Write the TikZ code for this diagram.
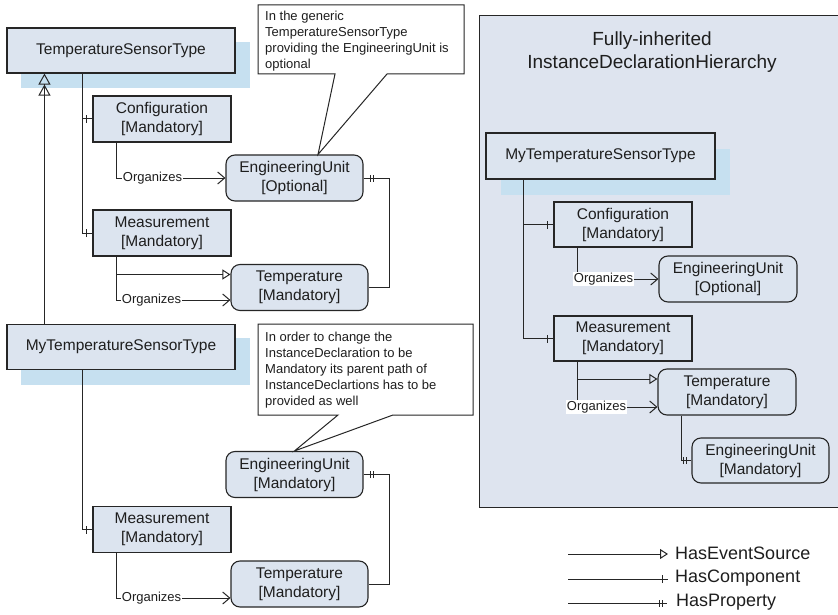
\documentclass[tikz,border=0pt]{standalone}
\usepackage{fontspec}
\setmainfont{Liberation Sans}
\usetikzlibrary{arrows.meta,decorations.markings}
\definecolor{boxfill}{RGB}{220,228,239}
\definecolor{panelfill}{RGB}{222,228,239}
\definecolor{shadowc}{RGB}{198,224,240}
\definecolor{linec}{RGB}{38,38,38}
\definecolor{textc}{RGB}{30,30,30}
\begin{document}
\begin{tikzpicture}[x=1pt,y=-1pt,
  every node/.style={text=textc},
  boxbase/.style={draw=linec,line width=1.1pt,fill=boxfill,align=center,
    font=\fontsize{15.5}{19}\selectfont,inner sep=0pt},
  typebox/.style={boxbase,minimum width=228pt,minimum height=45pt},
  objbox/.style={boxbase,minimum width=138pt,minimum height=46pt},
  varbox/.style={boxbase,rounded corners=9pt,minimum width=137pt,minimum height=46pt},
  conn/.style={draw=linec,line width=1pt},
  organizes/.style={conn,-{Straight Barb[length=7pt,width=12pt,line width=1pt]}},
  eventsrc/.style={conn,-{Triangle[open,length=8pt,width=10pt,line width=1pt]}},
  inherit/.style={conn,-{Triangle[open,length=11pt,width=12pt,line width=1pt]Triangle[open,length=11pt,width=12pt,line width=1pt]}},
  compend/.style={conn,postaction={decorate,decoration={markings,
    mark=at position -6pt with {\draw[linec,line width=1pt] (0pt,-4pt)--(0pt,4pt);}}}},
  propstart/.style={conn,postaction={decorate,decoration={markings,
    mark=at position 7pt with {\draw[linec,line width=1pt] (0pt,-3.5pt)--(0pt,3.5pt);},
    mark=at position 10pt with {\draw[linec,line width=1pt] (0pt,-3.5pt)--(0pt,3.5pt);}}}},
  propend/.style={conn,postaction={decorate,decoration={markings,
    mark=at position -8pt with {\draw[linec,line width=1pt] (0pt,-3.5pt)--(0pt,3.5pt);},
    mark=at position -5pt with {\draw[linec,line width=1pt] (0pt,-3.5pt)--(0pt,3.5pt);}}}},
  orglabel/.style={fill=white,inner sep=1pt,font=\fontsize{13}{15}\selectfont},
  calltext/.style={align=left,inner sep=0pt,font=\fontsize{13}{16}\selectfont},
  legendtext/.style={inner sep=0pt,font=\fontsize{18}{21}\selectfont,anchor=west},
  callout/.style={draw=linec,line width=1pt,fill=white}
]
\useasboundingbox (0,0) rectangle (838,615);

% right panel
\draw[draw=linec,line width=1pt,fill=panelfill] (479,16) rectangle (850,507);
\node[font=\fontsize{19}{23}\selectfont,align=center] (title) at (652,52)
  {Fully-inherited\\InstanceDeclarationHierarchy};

% shadows
\fill[shadowc] (21,42) rectangle (250,88);
\fill[shadowc] (21,338) rectangle (250,385);
\fill[shadowc] (501,149) rectangle (730,195);

% left top hierarchy
\node[typebox] (tst) at (121,50.5) {TemperatureSensorType};
\node[objbox] (config1) at (162,119) {Configuration\\{[Mandatory]}};
\node[objbox] (meas1) at (162,233) {Measurement\\{[Mandatory]}};
\node[varbox] (engu1) at (294.5,178) {EngineeringUnit\\{[Optional]}};
\node[varbox] (temp1) at (299.5,287.5) {Temperature\\{[Mandatory]}};

% left bottom hierarchy
\node[typebox] (mytst) at (121,347) {MyTemperatureSensorType};
\node[objbox] (meas2) at (162,529.5) {Measurement\\{[Mandatory]}};
\node[varbox] (engu2) at (294.5,474.5) {EngineeringUnit\\{[Mandatory]}};
\node[varbox] (temp2) at (299.5,584) {Temperature\\{[Mandatory]}};

% right hierarchy
\node[typebox,minimum width=229pt,minimum height=46pt] (mytstR) at (600.5,156) {MyTemperatureSensorType};
\node[objbox,minimum height=45pt] (configR) at (623,224.5) {Configuration\\{[Mandatory]}};
\node[varbox,minimum width=138pt] (enguR) at (728,279) {EngineeringUnit\\{[Optional]}};
\node[objbox,minimum height=45pt] (measR) at (623,338.5) {Measurement\\{[Mandatory]}};
\node[varbox,minimum width=138pt] (tempR) at (727,392) {Temperature\\{[Mandatory]}};
\node[varbox,minimum height=45pt] (engu2R) at (760.5,460.5) {EngineeringUnit\\{[Mandatory]}};

% connectors left top
\draw[inherit] ([xshift=38pt]mytst.north west) -- ([xshift=38pt]tst.south west);
\draw[compend] ([xshift=76pt]tst.south west) |- (config1.west);
\draw[compend] ([xshift=76pt]tst.south west) |- (meas1.west);
\draw[organizes] ([xshift=24pt]config1.south west) |- (engu1.west)
  node[orglabel,pos=0.5,anchor=west,xshift=5pt] {Organizes};
\draw[eventsrc] ([xshift=24pt]meas1.south west) |- ([yshift=13pt]temp1.west);
\draw[organizes] ([xshift=24pt]meas1.south west) |- ([yshift=-12.5pt]temp1.west)
  node[orglabel,pos=0.5,anchor=west,xshift=4pt] {Organizes};
\draw[propstart] (engu1.east) -- ++(26,0) |- (temp1.east);

% connectors left bottom
\draw[compend] ([xshift=76pt]mytst.south west) |- (meas2.west);
\draw[organizes] ([xshift=24pt]meas2.south west) |- ([yshift=-14pt]temp2.west)
  node[orglabel,pos=0.5,anchor=west,xshift=4pt] {Organizes};
\draw[propstart] (engu2.east) -- ++(26,0) |- (temp2.east);

% connectors right
\draw[compend] ([xshift=38pt]mytstR.south west) |- (configR.west);
\draw[compend] ([xshift=38pt]mytstR.south west) |- (measR.west);
\draw[organizes] ([xshift=24pt]configR.south west) |- (enguR.west)
  node[orglabel,pos=0.5,anchor=west,xshift=-5pt] {Organizes};
\draw[eventsrc] ([xshift=24pt]measR.south west) |- ([yshift=13pt]tempR.west);
\draw[organizes] ([xshift=24pt]measR.south west) |- ([yshift=-15pt]tempR.west)
  node[orglabel,pos=0.5,anchor=west,xshift=-12pt] {Organizes};
\draw[propend] ([xshift=24pt]tempR.south west) |- (engu2R.west);

% callouts
\draw[callout] (258,5) -- (464,5) -- (464,74) -- (387,74) -- ([xshift=23.5pt]engu1.north)
  -- (335,74) -- (258,74) -- cycle;
\node[calltext,anchor=north west] (c1t) at (265,11)
  {In the generic\\TemperatureSensorType\\providing the EngineeringUnit is\\optional};
\draw[callout] (258,324) -- (473,324) -- (473,415) -- (393,415) -- (engu2.north)
  -- (338,415) -- (258,415) -- cycle;
\node[calltext,anchor=north west] (c2t) at (265,332)
  {In order to change the\\InstanceDeclaration to be\\Mandatory its parent path of\\InstanceDeclartions has to be\\provided as well};

% legend
\node[legendtext] (lg1) at (675,553) {HasEventSource};
\node[legendtext] (lg2) at (675,578) {HasComponent};
\node[legendtext] (lg3) at (676,602) {HasProperty};
\coordinate (ls1) at (568,554);
\coordinate (ls2) at (568,579);
\coordinate (ls3) at (568,603);
\draw[eventsrc] (ls1) -- ([xshift=-7pt,yshift=-1pt]lg1.west);
\draw[compend] (ls2) -- ([xshift=-7pt,yshift=-1pt]lg2.west);
\draw[propend] (ls3) -- ([xshift=-9pt,yshift=-1pt]lg3.west);
\end{tikzpicture}
\end{document}
